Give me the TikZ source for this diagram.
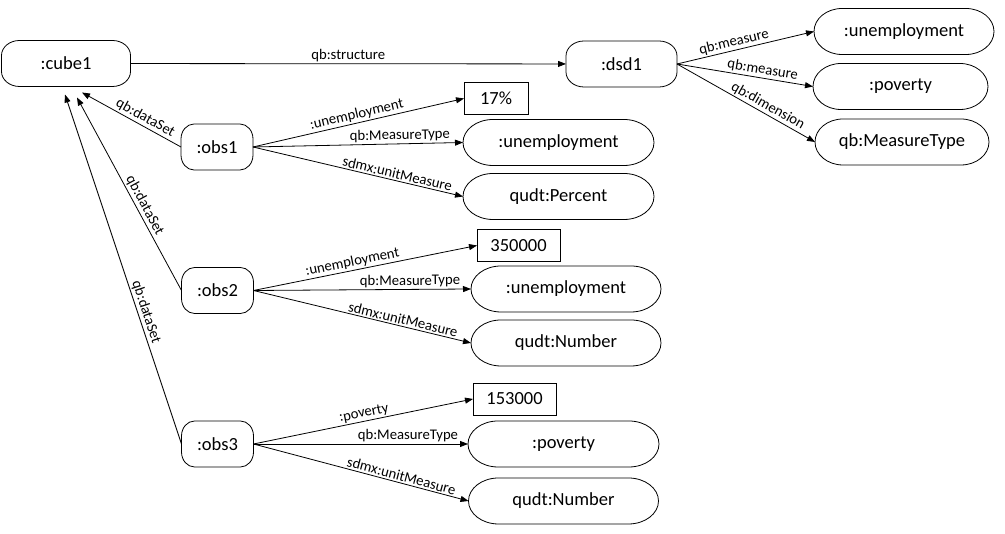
\documentclass[tikz,border=0pt]{standalone}
\usepackage{fontspec}
\setmainfont{Carlito}
\usetikzlibrary{positioning,arrows.meta}

% outline with elliptic ends round a node: name, x radius, y radius
\newcommand{\pillbox}[3]{%
  \draw[-] ([xshift=#2]#1.north west) -- ([xshift=-#2]#1.north east)
    arc[start angle=90,end angle=0,x radius=#2,y radius=#3]
    -- ([yshift=#3]#1.south east)
    arc[start angle=0,end angle=-90,x radius=#2,y radius=#3]
    -- ([xshift=#2]#1.south west)
    arc[start angle=270,end angle=180,x radius=#2,y radius=#3]
    -- ([yshift=-#3]#1.north west)
    arc[start angle=180,end angle=90,x radius=#2,y radius=#3] -- cycle;}

\begin{document}
\begin{tikzpicture}[x=1pt,y=1pt,->,>={Triangle[length=8pt,width=6pt]},line width=0.8pt,auto,node distance=8pt,font=\fontsize{18.5}{22}\selectfont]
\tikzstyle{res}=[rectangle,minimum height=46pt,inner sep=0pt,outer sep=0pt]
\tikzstyle{lit}=[draw,rectangle,minimum height=32pt,inner sep=0pt,outer sep=0pt]
\tikzstyle{lbl}=[font=\fontsize{14.7}{16}\selectfont,sloped,inner sep=1.5pt]
\useasboundingbox (0,0) rectangle (1005,534);

% cube and structure
\node[res,minimum width=129pt] (cube1) at (66,470.5) {:cube1};
\node[res,minimum width=111pt] (dsd1) at (621.5,470) {:dsd1};
\node[res,minimum width=180pt] (msr1) at (904,502.5) {:unemployment};
\node[res,minimum width=175pt] (msr2) at (900.5,447.5) {:poverty};
\node[res,minimum width=174pt] (dim1) at (902,392) {qb:MeasureType};

% observations
\node[res,minimum width=72pt] (obs1) at (217,387) {:obs1};
\node[res,minimum width=72pt] (obs2) at (217.5,243.5) {:obs2};
\node[res,minimum width=72pt] (obs3) at (217.5,90) {:obs3};

\node[lit,minimum width=64pt] (val1) at (496,435.5) {17\%};
\node[res,minimum width=191pt] (mt1) at (558.5,391.5) {:unemployment};
\node[res,minimum width=191pt] (unit1) [below=of mt1] {qudt:Percent};

\node[lit,minimum width=83pt] (val2) at (518.5,288.5) {350000};
\node[res,minimum width=190pt] (mt2) at (566,245) {:unemployment};
\node[res,minimum width=190pt] (unit2) [below=of mt2] {qudt:Number};

\node[lit,minimum width=83pt] (val3) at (514.5,135) {153000};
\node[res,minimum width=191pt] (mt3) at (563.5,90) {:poverty};
\node[res,minimum width=190pt] (unit3) [below=11pt of mt3] {qudt:Number};

% outlines
\foreach \n/\rx/\ry in {cube1/18/15,dsd1/18/15,obs1/13/15,obs2/13/15,obs3/13/15,
  msr1/28/23,msr2/28/23,dim1/28/23,mt1/30/23,unit1/30/23,mt2/30/23,unit2/30/23,
  mt3/30/23,unit3/30/23}
  \pillbox{\n}{\rx pt}{\ry pt};

% arrow ends below cube1
\coordinate (in1) at ([shift={(16,-6)}]cube1.south);
\coordinate (in2) at ([shift={(11,-11)}]cube1.south);
\coordinate (in3) at ([shift={(-1,-8)}]cube1.south);

\path
(cube1) edge node[lbl,above]{qb:structure} (dsd1)
(dsd1.east) edge node[lbl,above,pos=0.43]{qb:measure} (msr1.west)
(dsd1.east) edge node[lbl,above,pos=0.62]{qb:measure} (msr2.west)
(dsd1.east) edge node[lbl,above,pos=0.63]{qb:dimension} (dim1.west)
(obs1.west) edge node[lbl,above,pos=0.4]{qb:dataSet} (in1)
(obs2.west) edge node[lbl,above,pos=0.42]{qb:dataSet} (in2)
(obs3.west) edge node[lbl,above,pos=0.37]{qb:dataSet} (in3)
(obs1.east) edge node[lbl,above]{:unemployment} (val1.west)
(obs1.east) edge node[lbl,above,pos=0.7]{qb:MeasureType} (mt1.west)
(obs1.east) edge node[lbl,above,pos=0.68]{sdmx:unitMeasure} (unit1.west)
(obs2.east) edge node[lbl,above,pos=0.45]{:unemployment} (val2.west)
(obs2.east) edge node[lbl,above,pos=0.72]{qb:MeasureType} (mt2.west)
(obs2.east) edge node[lbl,above,pos=0.68]{sdmx:unitMeasure} (unit2.west)
(obs3.east) edge node[lbl,above,pos=0.51]{:poverty} (val3.west)
(obs3.east) edge node[lbl,above,pos=0.72]{qb:MeasureType} (mt3.west)
(obs3.east) edge node[lbl,above,pos=0.68]{sdmx:unitMeasure} (unit3.west);
\end{tikzpicture}
\end{document}
